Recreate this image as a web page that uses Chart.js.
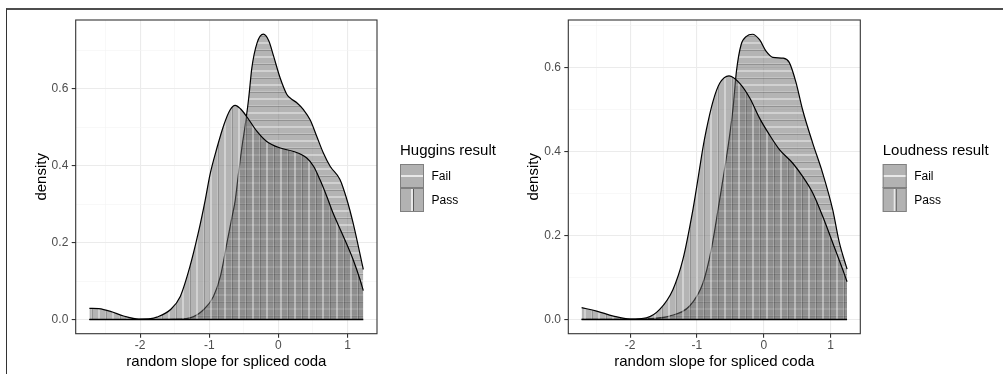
<!DOCTYPE html>
<html>
<head>
<meta charset="utf-8">
<script src="https://cdn.jsdelivr.net/npm/chart.js@4.4.1/dist/chart.umd.min.js"></script>
<style>
  body { margin: 0; background: #fff; }
  #wrap { position: relative; width: 1003px; height: 374px; overflow: hidden; }
  .panel { position: absolute; top: 0; height: 374px; }
  #frame { position: absolute; left: 6px; top: 8px; width: 1010px; height: 380px;
           border-top: 2px solid #4d4d4d; border-left: 1.5px solid #333; }
</style>
</head>
<body>
<div id="wrap">
  <div class="panel" style="left:0;width:500px"><canvas id="huggins" width="500" height="374"></canvas></div>
  <div class="panel" style="left:500px;width:503px"><canvas id="loudness" width="503" height="374"></canvas></div>
  <div id="frame"></div>
</div>
<script>
// groups in legend order
const groups = ['Fail', 'Pass'];

// Huggins panel, density curves
const hugFailX = [-2.735, -2.2, -1.7, -1.45, -1.28, -1.08, -0.94, -0.84, -0.745, -0.67, -0.625, -0.58, -0.53, -0.48, -0.43, -0.385, -0.31, -0.217, -0.14, -0.07, 0.025, 0.12, 0.17, 0.27, 0.365, 0.46, 0.555, 0.65, 0.75, 0.89, 0.99, 1.08, 1.228];
const hugFailY = [0, 0, 0, 0.001, 0.004, 0.026, 0.06, 0.112, 0.199, 0.268, 0.31, 0.377, 0.446, 0.506, 0.576, 0.654, 0.719, 0.742, 0.725, 0.685, 0.628, 0.586, 0.576, 0.563, 0.545, 0.519, 0.476, 0.433, 0.398, 0.364, 0.312, 0.251, 0.13];
const hugPassX = [-2.735, -2.6, -2.43, -2.24, -2.02, -1.85, -1.76, -1.56, -1.42, -1.28, -1.16, -1.06, -0.99, -0.89, -0.79, -0.70, -0.626, -0.55, -0.46, -0.31, -0.17, 0.025, 0.22, 0.41, 0.51, 0.60, 0.70, 0.79, 0.94, 1.08, 1.18, 1.228];
const hugPassY = [0.029, 0.028, 0.021, 0.009, 0.001, 0.002, 0.006, 0.026, 0.06, 0.138, 0.225, 0.31, 0.377, 0.446, 0.506, 0.545, 0.557, 0.548, 0.528, 0.489, 0.463, 0.446, 0.437, 0.42, 0.398, 0.364, 0.32, 0.277, 0.216, 0.156, 0.104, 0.075];

// Loudness panel
const loudFailX = [-2.725, -2.2, -1.7, -1.41, -1.11, -0.91, -0.785, -0.66, -0.56, -0.51, -0.46, -0.41, -0.34, -0.26, -0.17, -0.064, 0.036, 0.134, 0.29, 0.38, 0.48, 0.58, 0.73, 0.88, 1.03, 1.13, 1.245];
const loudFailY = [0, 0, 0.002, 0.008, 0.032, 0.087, 0.167, 0.286, 0.385, 0.44, 0.504, 0.591, 0.655, 0.675, 0.68, 0.667, 0.639, 0.625, 0.623, 0.613, 0.566, 0.50, 0.421, 0.349, 0.262, 0.183, 0.12];
const loudPassX = [-2.725, -2.5, -2.25, -2.0, -1.755, -1.557, -1.36, -1.21, -1.06, -1.01, -0.96, -0.91, -0.86, -0.76, -0.66, -0.52, -0.36, -0.21, -0.064, 0.085, 0.234, 0.43, 0.58, 0.73, 0.88, 1.03, 1.18, 1.245];
const loudPassY = [0.028, 0.020, 0.008, 0.001, 0.004, 0.024, 0.071, 0.143, 0.262, 0.31, 0.36, 0.41, 0.452, 0.52, 0.563, 0.581, 0.563, 0.528, 0.48, 0.44, 0.405, 0.373, 0.341, 0.302, 0.246, 0.183, 0.119, 0.09];

// labelled ticks
const xTickLabels = [-2, -1, 0, 1];
const yTickLabels = [0, 0.2, 0.4, 0.6];

const FONT = "'Liberation Sans', Arial, Helvetica, sans-serif";
Chart.defaults.font.family = FONT;

function stripes(dir) {
  const c = document.createElement('canvas');
  c.width = c.height = 14;
  const g = c.getContext('2d');
  g.fillStyle = 'rgba(105,105,105,0.5)';
  g.fillRect(0, 0, 14, 14);
  g.fillStyle = 'rgba(255,255,255,0.4)';
  if (dir === 'h') g.fillRect(0, 0, 14, 2); else g.fillRect(0, 0, 2, 14);
  g.fillStyle = 'rgba(255,255,255,0.2)';
  if (dir === 'h') g.fillRect(0, 7, 14, 1); else g.fillRect(7, 0, 1, 14);
  g.fillStyle = 'rgba(0,0,0,0.18)';
  if (dir === 'h') g.fillRect(0, 8, 14, 1); else g.fillRect(8, 0, 1, 14);
  return g.createPattern(c, 'repeat');
}
const failPattern = stripes('h');
const passPattern = stripes('v');

function pts(xs, ys) {
  return xs.map((x, i) => ({ x: x, y: ys[i] }));
}

function near(v, list) {
  return list.some(t => Math.abs(t - v) < 1e-6);
}

const panelBorder = {
  id: 'panelBorder',
  afterDraw(chart) {
    const { ctx, chartArea: a } = chart;
    ctx.save();
    ctx.strokeStyle = '#333';
    ctx.lineWidth = 1.1;
    ctx.strokeRect(a.left, a.top, a.right - a.left, a.bottom - a.top);
    ctx.restore();
  }
};

function drawKey(ctx, g, x, y) {
  ctx.fillStyle = 'rgb(178,178,178)';
  ctx.fillRect(x, y, 24, 24);
  if (g === 'Fail') {
    ctx.fillStyle = 'rgba(255,255,255,0.7)';
    ctx.fillRect(x, y + 11, 24, 2);
    ctx.fillStyle = 'rgba(0,0,0,0.6)';
    ctx.fillRect(x, y + 23, 24, 1);
  } else {
    ctx.fillStyle = 'rgba(255,255,255,0.7)';
    ctx.fillRect(x + 11, y, 2, 24);
    ctx.fillStyle = 'rgba(0,0,0,0.5)';
    ctx.fillRect(x + 13, y, 1, 24);
  }
  ctx.strokeStyle = '#808080';
  ctx.lineWidth = 1;
  ctx.strokeRect(x + 0.5, y + 0.5, 23, 23);
}

const keyLegend = {
  id: 'keyLegend',
  afterDraw(chart, args, o) {
    const ctx = chart.ctx;
    ctx.save();
    ctx.fillStyle = '#000';
    ctx.font = '15px ' + FONT;
    ctx.textBaseline = 'alphabetic';
    ctx.fillText(o.title, o.x, o.y);
    groups.forEach((g, i) => {
      const top = o.y + 9 + i * 24;
      drawKey(ctx, g, o.x, top);
      ctx.fillStyle = '#000';
      ctx.font = '12px ' + FONT;
      ctx.textBaseline = 'middle';
      ctx.fillText(g, o.x + 31.5, top + 12.5);
    });
    ctx.restore();
  }
};

function makeChart(id, p) {
  const curve = (label, data, pattern) => ({
    label: label,
    data: data,
    borderColor: '#000',
    borderWidth: 1.2,
    backgroundColor: pattern,
    fill: 'origin',
    pointRadius: 0,
    cubicInterpolationMode: 'monotone'
  });
  const first = Math.min(p.failX[0], p.passX[0]);
  const last = Math.max(p.failX[p.failX.length - 1], p.passX[p.passX.length - 1]);
  return new Chart(document.getElementById(id), {
    type: 'line',
    data: {
      datasets: [
        { label: 'baseline', data: [{ x: first, y: 0 }, { x: last, y: 0 }], borderColor: '#000', borderWidth: 1.6, pointRadius: 0, fill: false },
        curve('Pass', pts(p.passX, p.passY), passPattern),
        curve('Fail', pts(p.failX, p.failY), failPattern)
      ]
    },
    options: {
      responsive: false,
      animation: false,
      events: [],
      layout: { padding: { top: 20, right: p.padRight, bottom: 0, left: 0 } },
      plugins: {
        legend: { display: false },
        tooltip: { enabled: false },
        keyLegend: { title: p.title, x: p.legendX, y: 155 }
      },
      scales: {
        x: {
          type: 'linear',
          min: p.xMin, max: p.xMax,
          afterFit: s => { s.height = 40.3; },
          border: { display: false },
          grid: {
            color: c => (c.tick && near(c.tick.value, xTickLabels)) ? '#ebebeb' : '#f3f3f3',
            lineWidth: c => (c.tick && near(c.tick.value, xTickLabels)) ? 1.1 : 0.6,
            tickColor: c => (c.tick && near(c.tick.value, xTickLabels)) ? '#333' : 'rgba(0,0,0,0)',
            tickLength: 4,
            tickWidth: 1.1
          },
          ticks: {
            stepSize: 0.5, includeBounds: false, autoSkip: false, maxRotation: 0,
            color: '#4d4d4d', font: { size: 12 }, padding: 1,
            callback: v => near(v, xTickLabels) ? String(Math.round(v)) : ''
          },
          title: { display: true, text: 'random slope for spliced coda', color: '#000', font: { size: 15 }, padding: { top: 0, bottom: 3.3 } }
        },
        y: {
          min: p.yMin, max: p.yMax,
          afterFit: s => { s.width = p.yWidth; },
          border: { display: false },
          grid: {
            color: c => (c.tick && near(c.tick.value, yTickLabels)) ? '#ebebeb' : '#f3f3f3',
            lineWidth: c => (c.tick && near(c.tick.value, yTickLabels)) ? 1.1 : 0.6,
            tickColor: c => (c.tick && near(c.tick.value, yTickLabels)) ? '#333' : 'rgba(0,0,0,0)',
            tickLength: 4,
            tickWidth: 1.1
          },
          ticks: {
            stepSize: 0.1, includeBounds: false, autoSkip: false,
            color: '#4d4d4d', font: { size: 12 }, padding: 3.4,
            callback: v => near(v, yTickLabels) ? v.toFixed(1) : ''
          },
          title: { display: true, text: 'density', color: '#000', font: { size: 15 }, padding: { top: p.yTitlePad, bottom: 0 } }
        }
      }
    },
    plugins: [panelBorder, keyLegend]
  });
}

makeChart('huggins', {
  failX: hugFailX, failY: hugFailY, passX: hugPassX, passY: hugPassY,
  title: 'Huggins result',
  xMin: -2.933, xMax: 1.426, yMin: -0.037, yMax: 0.779,
  yWidth: 75.7, yTitlePad: 32.7, padRight: 123, legendX: 400
});

makeChart('loudness', {
  failX: loudFailX, failY: loudFailY, passX: loudPassX, passY: loudPassY,
  title: 'Loudness result',
  xMin: -2.924, xMax: 1.443, yMin: -0.034, yMax: 0.714,
  yWidth: 68.3, yTitlePad: 24.5, padRight: 142.7, legendX: 382.7
});
</script>
</body>
</html>
